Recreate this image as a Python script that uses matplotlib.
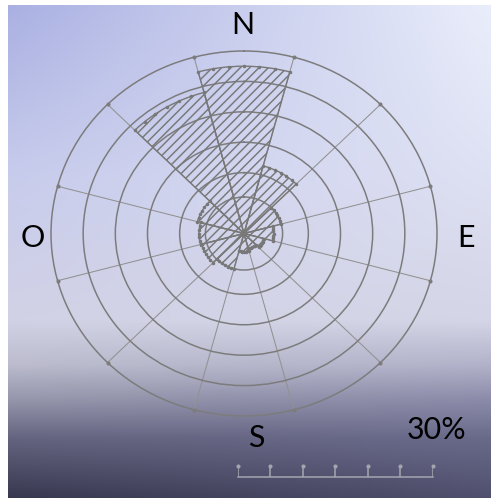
import numpy as np
import matplotlib
matplotlib.use('Agg')
import matplotlib.pyplot as plt

# Wind rose data (percent of time per 30 degree sector, clockwise from N)
directions = [0, 30, 60, 90, 120, 150, 180, 210, 240, 270, 300, 330]
frequency = [27.5, 11.5, 6.0, 4.6, 3.2, 2.6, 3.0, 6.0, 6.8, 7.0, 7.5, 24.0]
sector_width = 30
ring_levels = [6, 10, 15, 20, 25]
r_max = 30
compass = ['N', 'E', 'S', 'O']
scale_ticks = [0, 5, 10, 15, 20, 25, 30]
scale_label = '30%'

W, H = 492, 498
DPI = 84
fig = plt.figure(figsize=(W / DPI, H / DPI), dpi=DPI, facecolor='white')
plt.rcParams['hatch.linewidth'] = 1.25

def px(x, y):
    # pixel (from top-left) -> figure fraction
    return x / W, 1 - y / H

# background gradient
stops = [0.0, 0.35, 0.64, 0.73, 0.80, 0.88, 1.0]
left_col = np.array([[170, 176, 226], [200, 204, 236], [210, 210, 230], [188, 188, 206],
                     [150, 150, 172], [100, 100, 128], [56, 56, 80]]) / 255
right_col = np.array([[234, 238, 251], [222, 225, 243], [212, 213, 230], [178, 178, 202],
                      [140, 140, 170], [105, 105, 138], [80, 80, 110]]) / 255
ny, nx = 300, 100
yy = np.linspace(0, 1, ny)
lc = np.stack([np.interp(yy, stops, left_col[:, k]) for k in range(3)], axis=1)
rc = np.stack([np.interp(yy, stops, right_col[:, k]) for k in range(3)], axis=1)
xx = np.linspace(0, 1, nx)[None, :, None]
grad = lc[:, None, :] * (1 - xx) + rc[:, None, :] * xx

x0, y0 = px(8, 498)
x1, y1 = px(492, 5)
bg = fig.add_axes([x0, y0, x1 - x0, y1 - y0], zorder=0)
bg.imshow(grad, aspect='auto', extent=[0, 1, 0, 1], interpolation='bicubic')
bg.axis('off')

# polar rose, stretched into an ellipse
l, b = px(51, 416)
r_, t = px(437, 51)
ax = fig.add_axes([l, b, r_ - l, t - b], projection='polar', zorder=1)
ax.set_aspect('auto')
ax.set_facecolor('none')
ax.set_theta_zero_location('N')
ax.set_theta_direction(-1)
ax.set_ylim(0, r_max)

theta = np.deg2rad(directions)
half = sector_width / 2
ax.bar(theta, frequency, width=np.deg2rad(sector_width), bottom=0,
       facecolor='none', edgecolor='#787878', linewidth=1.2, hatch='///', zorder=3)

# little vertex dots along the sector arcs
for d, f in zip(directions, frequency):
    a = np.deg2rad(np.arange(d - half, d + half + 0.1, 5))
    ax.plot(a, [f] * len(a), 'o', color='#787878', markersize=2, zorder=4)

spokes = np.arange(15, 360, 30)
ax.set_thetagrids(spokes, labels=[''] * len(spokes))
ax.set_rgrids(ring_levels, labels=[''] * len(ring_levels))
ax.grid(True, axis='x', color='#929292', linewidth=0.9)
ax.grid(True, axis='y', color='#7c7c7c', linewidth=1.3)
ax.spines['polar'].set_color('#7c7c7c')
ax.spines['polar'].set_linewidth(1.3)
ax.plot(np.deg2rad(spokes), [r_max] * len(spokes), 'o', color='#7c7c7c',
        markersize=2.5, clip_on=False, zorder=4)

# compass letters
letter_pos = [(243, 25), (466, 238), (256, 438), (33, 238)]
for name, (x, y) in zip(compass, letter_pos):
    fx, fy = px(x, y)
    fig.text(fx, fy, name, ha='center', va='center', fontsize=26, family='Lato', color='black')

fx, fy = px(437, 430)
fig.text(fx, fy, scale_label, ha='center', va='center', fontsize=26, family='Lato', color='black')

# scale bar
sl, sb = px(238, 482)
sr, st = px(433, 462)
sax = fig.add_axes([sl, sb, sr - sl, st - sb], zorder=2)
sax.set_xlim(0, 30)
sax.set_ylim(0, 1)
sax.axis('off')
sax.plot([scale_ticks[0], scale_ticks[-1]], [0.25, 0.25], color='#a6a6b0', linewidth=1.3, clip_on=False)
sax.vlines(scale_ticks, 0.25, 0.8, color='#a6a6b0', linewidth=1.3)
sax.plot(scale_ticks, [0.8] * len(scale_ticks), 'o', color='#a6a6b0', markersize=2.5, clip_on=False)

fig.savefig('out.png', dpi=DPI, facecolor='white')
